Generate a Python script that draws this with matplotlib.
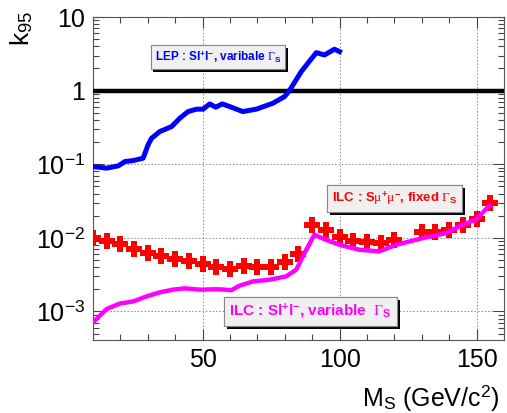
import matplotlib
matplotlib.use('Agg')
import matplotlib.pyplot as plt
import matplotlib.patheffects as pe
from matplotlib.ticker import FixedLocator, MultipleLocator, NullFormatter, LogLocator
import numpy as np

plt.rcParams['font.family'] = ['Liberation Sans', 'DejaVu Sans']
plt.rcParams['mathtext.fontset'] = 'custom'
plt.rcParams['mathtext.rm'] = 'Liberation Serif'
plt.rcParams['mathtext.sf'] = 'Liberation Sans'
plt.rcParams['mathtext.bf'] = 'Liberation Sans:bold'
plt.rcParams['mathtext.it'] = 'Liberation Serif:italic'

# LEP : S l+ l-, variable width
lep_mass = [10, 15, 19.2, 21.7, 24.7, 28.3, 30.1, 31.4, 34.4, 38.7, 41.7, 44.7, 47.8, 50.2,
            52.6, 54.8, 57.2, 59.9, 64.7, 69.6, 75.7, 79.9, 81.7, 86, 91.5, 94.5, 98.1, 100]
lep_k95 = [0.093, 0.0885, 0.095, 0.109, 0.112, 0.121, 0.183, 0.226, 0.278, 0.325, 0.422, 0.519,
           0.56, 0.56, 0.66, 0.595, 0.66, 0.607, 0.519, 0.56, 0.675, 0.83, 1.0, 1.81, 3.28, 3.05,
           3.65, 3.39]

# ILC : S mu+ mu-, fixed width
ilc_mu_mass = [10, 15, 20, 25, 30, 35, 40, 45, 50, 55, 60, 65, 70, 75, 80, 85, 90, 95, 100,
               105, 110, 115, 120, 130, 135, 140, 145, 150, 155]
ilc_mu_k95 = [0.0099, 0.0092, 0.0082, 0.0070, 0.0062, 0.0056, 0.0052, 0.0048, 0.00445, 0.0040,
              0.00377, 0.0042, 0.0040, 0.0040, 0.00465, 0.0061, 0.0151, 0.0126, 0.0102, 0.0090,
              0.0087, 0.0085, 0.0094, 0.0119, 0.0122, 0.0129, 0.0151, 0.0180, 0.0297]

# ILC : S l+ l-, variable width
ilc_ll_mass = [10, 15, 19.8, 24.7, 29.5, 34.4, 39.2, 43.5, 49, 54.4, 56.2, 60.5, 63.5, 68.4,
               74.5, 80.5, 84.2, 87.2, 90.8, 95, 100, 104.8, 107.2, 114.5, 120.6, 130.3, 138.8,
               144.9, 149.7, 154.6]
ilc_ll_k95 = [7.1e-4, 1.08e-3, 1.28e-3, 1.37e-3, 1.6e-3, 1.82e-3, 1.98e-3, 2.06e-3, 1.98e-3,
              2.0e-3, 2.0e-3, 1.95e-3, 2.24e-3, 2.56e-3, 2.7e-3, 3.0e-3, 3.7e-3, 6.2e-3, 0.011,
              9.4e-3, 8.05e-3, 7.26e-3, 6.9e-3, 6.55e-3, 8.05e-3, 9.9e-3, 0.0116, 0.0151, 0.0176,
              0.0273]

ytick_vals = [1e-3, 1e-2, 1e-1, 1, 10]
ytick_labels = [r'10$^{\mathsf{-3}}$', r'10$^{\mathsf{-2}}$', r'10$^{\mathsf{-1}}$', '1', '10']
xtick_vals = [50, 100, 150]

fig = plt.figure(figsize=(5.07, 4.13), dpi=100)
ax = fig.add_axes([0.1834, 0.1768, 0.8106, 0.782])

ax.set_yscale('log')
ax.set_xlim(10, 160)
ax.set_ylim(4.1e-4, 10)

ax.axhline(1, color='black', lw=3.2, zorder=3)
ax.plot(lep_mass, lep_k95, color='#0000ff', lw=3.6, zorder=4)
ax.plot(ilc_mu_mass, ilc_mu_k95, ls='none', marker='P', ms=11, color='#ff0000',
        mec='#ff0000', mew=0, zorder=4)
ax.plot(ilc_ll_mass, ilc_ll_k95, color='#ff00ff', lw=3.2, zorder=5)

ax.yaxis.set_major_locator(FixedLocator(ytick_vals))
ax.set_yticklabels(ytick_labels)
ax.yaxis.set_minor_locator(LogLocator(base=10, subs=np.arange(2, 10)))
ax.yaxis.set_minor_formatter(NullFormatter())
ax.xaxis.set_major_locator(FixedLocator(xtick_vals))
ax.set_xticklabels([str(v) for v in xtick_vals])
ax.xaxis.set_minor_locator(MultipleLocator(10))

ax.tick_params(which='both', direction='in', top=True, right=True, labelsize=18, color='#444444')
ax.tick_params(which='major', length=8, width=0.8, pad=6)
ax.tick_params(which='minor', length=4, width=0.8)
for s in ax.spines.values():
    s.set_color('#555555')
    s.set_linewidth(0.8)

ax.grid(True, which='major', color='#888888', ls=(0, (1.5, 2)), lw=0.7)

def label_box(x, y, text, color, size):
    t = ax.text(x, y, text, transform=ax.transAxes, color=color, fontsize=size,
                fontweight='bold', ha='center', va='center', zorder=6,
                bbox=dict(boxstyle='square,pad=0.35', fc='#f0f0f0', ec='#888888', lw=0.8))
    t.get_bbox_patch().set_path_effects([
        pe.withSimplePatchShadow(offset=(2, -2), shadow_rgbFace='black', alpha=1), pe.Normal()])
    return t

label_box(0.304, 0.876, r'LEP : Sl$^{\mathbf{+}}$l$^{\mathbf{-}}$, varibale $\Gamma_{\mathbf{S}}$',
          '#0000ff', 8.5)
label_box(0.734, 0.438, r'ILC : S$\mathrm{\mu}^{\mathbf{+}}\mathrm{\mu}^{\mathbf{-}}$, fixed $\Gamma_{\mathbf{S}}$',
          '#ff0000', 9.5)
label_box(0.529, 0.088, r'ILC : Sl$^{\mathbf{+}}$l$^{\mathbf{-}}$, variable  $\Gamma_{\mathbf{S}}$',
          '#ff00ff', 11)

fig.text(0.043, 0.932, r'k$_{\mathsf{95}}$', rotation=90, ha='center', va='center', fontsize=19)
fig.text(0.986, 0.036, r'M$_{\mathsf{S}}$ (GeV/c$^{\mathsf{2}}$)', ha='right', va='center', fontsize=18)

fig.savefig('out.png', dpi=100)
